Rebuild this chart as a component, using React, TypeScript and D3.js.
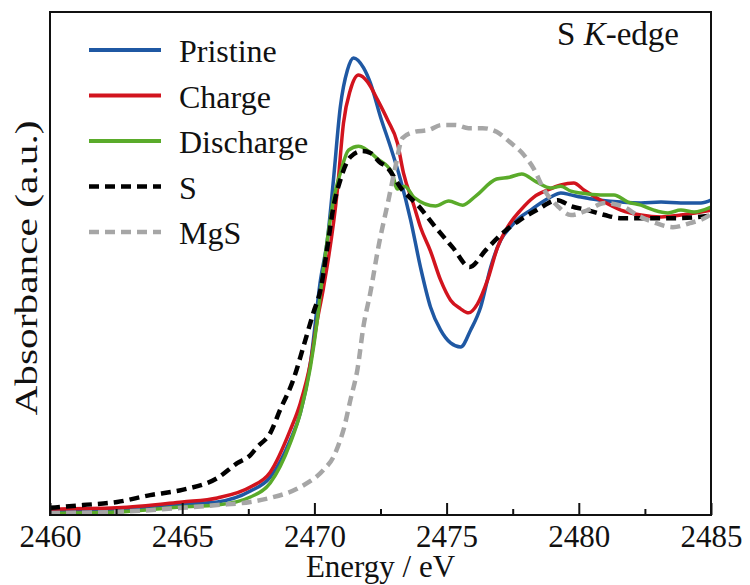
import * as React from 'react'
import * as d3 from 'd3'

const {useRef, useEffect} = React

// energy (eV) / normalised absorbance pairs
const pristine: [number, number][] = [
  [2460.0, 0.013], [2462.54, 0.016], [2465.0, 0.035], [2466.33, 0.042], [2467.58, 0.077],
  [2468.33, 0.122], [2469.09, 0.242], [2469.47, 0.329], [2469.85, 0.490], [2470.23, 0.757],
  [2470.49, 0.886], [2470.72, 1.079], [2470.98, 1.314], [2471.25, 1.433], [2471.48, 1.472],
  [2471.86, 1.440], [2472.12, 1.391], [2472.5, 1.282], [2472.88, 1.185], [2473.26, 1.079],
  [2473.64, 0.950], [2474.02, 0.795], [2474.39, 0.670], [2474.77, 0.596], [2475.15, 0.554],
  [2475.53, 0.541], [2475.91, 0.596], [2476.29, 0.670], [2476.67, 0.799], [2477.05, 0.886],
  [2477.42, 0.928], [2477.8, 0.960], [2478.18, 0.982], [2478.56, 1.005], [2478.94, 1.024],
  [2479.32, 1.037], [2479.7, 1.031], [2480.08, 1.024], [2480.83, 1.014], [2481.59, 1.008],
  [2482.35, 1.005], [2483.11, 1.008], [2483.86, 1.005], [2484.62, 1.005], [2485.0, 1.014],
]

const charge: [number, number][] = [
  [2460.0, 0.019], [2462.54, 0.023], [2465.0, 0.042], [2466.33, 0.055], [2467.58, 0.090],
  [2468.33, 0.138], [2469.09, 0.274], [2469.47, 0.361], [2469.85, 0.490], [2470.11, 0.628],
  [2470.34, 0.730], [2470.87, 1.047], [2471.1, 1.262], [2471.36, 1.369], [2471.67, 1.417],
  [2472.01, 1.395], [2472.39, 1.337], [2472.77, 1.272], [2473.14, 1.198], [2473.37, 1.101],
  [2473.75, 1.000], [2474.02, 0.925], [2474.39, 0.850], [2474.77, 0.757], [2475.15, 0.692],
  [2475.53, 0.664], [2475.83, 0.651], [2476.17, 0.680], [2476.55, 0.757], [2476.93, 0.863],
  [2477.31, 0.928], [2477.8, 0.982], [2478.3, 1.024], [2478.83, 1.047], [2479.32, 1.063],
  [2479.81, 1.069], [2480.19, 1.047], [2480.83, 1.014], [2481.59, 0.982], [2482.35, 0.966],
  [2483.11, 0.960], [2483.86, 0.966], [2484.62, 0.976], [2485.0, 0.982],
]

const discharge: [number, number][] = [
  [2460.0, 0.006], [2462.54, 0.010], [2465.0, 0.026], [2466.33, 0.032], [2467.58, 0.058],
  [2468.33, 0.103], [2469.09, 0.232], [2469.47, 0.329], [2469.85, 0.477], [2470.11, 0.628],
  [2470.23, 0.715], [2470.49, 0.886], [2470.72, 1.014], [2470.98, 1.101], [2471.29, 1.175],
  [2471.67, 1.188], [2472.39, 1.147], [2472.92, 1.105], [2473.14, 1.050], [2473.41, 1.059],
  [2473.79, 1.021], [2474.58, 0.995], [2475.08, 1.011], [2475.61, 0.998], [2476.1, 1.027],
  [2476.89, 1.082], [2477.38, 1.088], [2477.84, 1.098], [2478.41, 1.072], [2478.94, 1.053],
  [2479.32, 1.059], [2479.7, 1.043], [2480.08, 1.037], [2480.83, 1.031], [2481.33, 1.031],
  [2481.86, 1.008], [2482.35, 0.998], [2482.84, 0.982], [2483.37, 0.973], [2483.86, 0.982],
  [2484.36, 0.976], [2485.0, 0.992],
]

const sulfur: [number, number][] = [
  [2460.0, 0.023], [2461.25, 0.032], [2462.54, 0.042], [2463.79, 0.064], [2465.0, 0.081],
  [2466.33, 0.119], [2467.08, 0.167], [2467.58, 0.193], [2467.84, 0.219], [2468.33, 0.264],
  [2468.71, 0.340], [2469.2, 0.435], [2469.58, 0.541], [2469.96, 0.651], [2470.23, 0.725],
  [2470.49, 0.863], [2470.72, 0.992], [2470.98, 1.079], [2471.36, 1.153], [2471.8, 1.172],
  [2472.12, 1.166], [2472.5, 1.134], [2472.69, 1.125], [2473.3, 1.050], [2473.94, 0.995],
  [2474.58, 0.927], [2475.23, 0.862], [2475.87, 0.799], [2476.48, 0.853], [2477.12, 0.908],
  [2477.77, 0.950], [2478.41, 0.982], [2479.2, 1.014], [2479.7, 0.995], [2480.34, 0.982],
  [2480.98, 0.966], [2481.63, 0.956], [2482.27, 0.956], [2483.56, 0.956], [2484.89, 0.963],
  [2485.0, 0.966],
]

const mgs: [number, number][] = [
  [2460.0, 0.006], [2462.54, 0.010], [2465.0, 0.023], [2466.33, 0.032], [2467.58, 0.042],
  [2468.33, 0.055], [2469.47, 0.090], [2470.34, 0.145], [2470.72, 0.187], [2470.98, 0.242],
  [2471.1, 0.274], [2471.36, 0.370], [2471.63, 0.470], [2471.86, 0.610], [2472.12, 0.718],
  [2472.42, 0.863], [2472.8, 1.014], [2473.07, 1.124], [2473.33, 1.214], [2473.79, 1.234],
  [2474.32, 1.240], [2474.81, 1.256], [2475.34, 1.256], [2475.83, 1.246], [2476.36, 1.246],
  [2476.89, 1.234], [2477.38, 1.202], [2477.92, 1.160], [2478.3, 1.115], [2478.67, 1.050],
  [2479.2, 0.995], [2479.7, 0.966], [2480.34, 0.982], [2480.98, 1.005], [2481.63, 0.995],
  [2482.27, 0.963], [2482.92, 0.940], [2483.56, 0.927], [2484.2, 0.940], [2484.89, 0.963],
  [2485.0, 0.970],
]

const seriesNames = ['Pristine', 'Charge', 'Discharge', 'S', 'MgS']
const seriesData = [pristine, charge, discharge, sulfur, mgs]
const seriesColors = ['#1f58a3', '#d2141e', '#5aab2a', '#000000', '#a6a6a6']
const seriesDashed = [false, false, false, true, true]

const majorTicks = [2460, 2465, 2470, 2475, 2480, 2485]
const minorTicks = [2462.5, 2467.5, 2472.5, 2477.5, 2482.5]

const W = 750
const H = 585
const left = 50
const right = 711
const top = 12
const bottom = 515
const font = '"Liberation Serif", "Times New Roman", serif'

export default function App() {
  const ref = useRef<SVGSVGElement>(null)

  useEffect(() => {
    const svg = d3.select(ref.current)
    svg.selectAll('*').remove()

    const x = d3.scaleLinear().domain([2460, 2485]).range([left, right])
    const y = d3.scaleLinear().domain([0, 1.62]).range([bottom, top])

    svg.append('defs').append('clipPath').attr('id', 'plot-clip')
      .append('rect')
      .attr('x', left).attr('y', top)
      .attr('width', right - left).attr('height', bottom - top)

    const line = d3.line<[number, number]>()
      .x(d => x(d[0]))
      .y(d => y(d[1]))
      .curve(d3.curveMonotoneX)

    const curves = svg.append('g').attr('clip-path', 'url(#plot-clip)')
    seriesData.forEach((data, i) => {
      curves.append('path')
        .datum(data)
        .attr('d', line)
        .attr('fill', 'none')
        .attr('stroke', seriesColors[i])
        .attr('stroke-width', seriesDashed[i] ? 4.5 : 3.5)
        .attr('stroke-dasharray', seriesDashed[i] ? '10,6' : null)
        .attr('stroke-linejoin', 'round')
    })

    // ticks inside, pointing up
    const axis = d3.axisBottom(x).tickValues(majorTicks).tickSize(-12).tickPadding(10)
      .tickFormat(d3.format('d'))
    const gx = svg.append('g').attr('transform', `translate(0, ${bottom})`).call(axis)
    gx.attr('font-family', null).attr('font-size', null)
    gx.select('.domain').remove()
    gx.selectAll('line').attr('stroke', '#111').attr('stroke-width', 2)
    gx.selectAll('text')
      .attr('fill', '#111')
      .style('font-family', font)
      .style('font-size', '31px')

    const minor = d3.axisBottom(x).tickValues(minorTicks).tickSize(-6).tickFormat(() => '')
    const gm = svg.append('g').attr('transform', `translate(0, ${bottom})`).call(minor)
    gm.select('.domain').remove()
    gm.selectAll('line').attr('stroke', '#111').attr('stroke-width', 2)

    svg.append('rect')
      .attr('x', left).attr('y', top)
      .attr('width', right - left).attr('height', bottom - top)
      .attr('fill', 'none').attr('stroke', '#111').attr('stroke-width', 2)

    svg.append('text')
      .attr('x', (left + right) / 2).attr('y', 577)
      .attr('text-anchor', 'middle')
      .style('font-family', font).style('font-size', '31px')
      .attr('fill', '#111')
      .text('Energy / eV')

    svg.append('text')
      .attr('transform', 'translate(37, 268) rotate(-90)')
      .attr('text-anchor', 'middle')
      .attr('textLength', 295)
      .attr('lengthAdjust', 'spacingAndGlyphs')
      .style('font-family', font).style('font-size', '32px')
      .attr('fill', '#111')
      .text('Absorbance (a.u.)')

    const edge = svg.append('text')
      .attr('x', 679).attr('y', 45)
      .attr('text-anchor', 'end')
      .style('font-family', font).style('font-size', '33px')
      .attr('fill', '#111')
    edge.append('tspan').text('S ')
    edge.append('tspan').style('font-style', 'italic').text('K')
    edge.append('tspan').text('-edge')

    const legend = svg.append('g')
    seriesNames.forEach((name, i) => {
      const base = 62 + i * 45.5
      legend.append('line')
        .attr('x1', 89).attr('x2', 161)
        .attr('y1', base - 12).attr('y2', base - 12)
        .attr('stroke', seriesColors[i])
        .attr('stroke-width', seriesDashed[i] ? 4.5 : 4)
        .attr('stroke-dasharray', seriesDashed[i] ? '10,6' : null)
      legend.append('text')
        .attr('x', 179).attr('y', base)
        .style('font-family', font).style('font-size', '32px')
        .attr('fill', '#111')
        .text(name)
    })
  }, [])

  return (
    <svg ref={ref} width={W} height={H}
      style={{position: 'absolute', left: 0, top: 0, background: '#fff'}} />
  )
}
